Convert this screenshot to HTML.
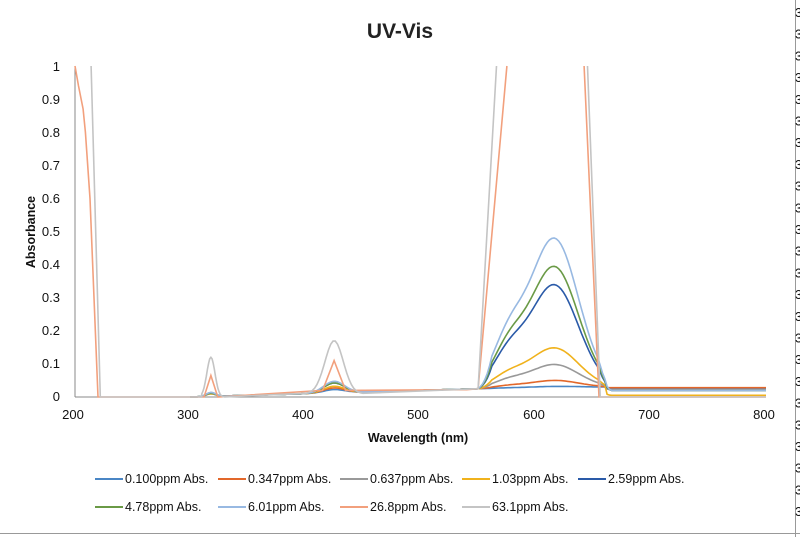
<!DOCTYPE html>
<html><head><meta charset="utf-8"><style>
body{margin:0;background:#fff;width:800px;height:537px;overflow:hidden;font-family:"Liberation Sans",sans-serif}
</style></head><body>
<svg id="s" width="800" height="537" xmlns="http://www.w3.org/2000/svg" font-family="Liberation Sans, sans-serif">
<rect width="800" height="537" fill="#fff"/>
<text x="400" y="38" text-anchor="middle" font-size="21" font-weight="bold" fill="#222">UV-Vis</text>
<g font-size="13" fill="#111" text-anchor="end">
<text x="60" y="71">1</text><text x="60" y="104">0.9</text><text x="60" y="137">0.8</text><text x="60" y="170">0.7</text><text x="60" y="203">0.6</text><text x="60" y="236">0.5</text><text x="60" y="269">0.4</text><text x="60" y="302">0.3</text><text x="60" y="335">0.2</text><text x="60" y="368">0.1</text><text x="60" y="401">0</text>
</g>
<g font-size="13" fill="#111" text-anchor="middle">
<text x="73" y="419">200</text><text x="188" y="419">300</text><text x="303" y="419">400</text><text x="418" y="419">500</text><text x="534" y="419">600</text><text x="649" y="419">700</text><text x="764" y="419">800</text>
</g>
<text x="418" y="442" text-anchor="middle" font-size="12.5" font-weight="bold" fill="#111">Wavelength (nm)</text>
<text transform="translate(35,232) rotate(-90)" text-anchor="middle" font-size="12.5" font-weight="bold" fill="#111">Absorbance</text>
<line x1="75" y1="66" x2="75" y2="397" stroke="#888" stroke-width="1"/>
<line x1="75" y1="397" x2="766" y2="397" stroke="#888" stroke-width="1"/>
<g id="series"></g>
<line x1="795.5" y1="0" x2="795.5" y2="537" stroke="#999"/>
<g id="threes" font-size="13" fill="#111"></g>
<line x1="0" y1="533.5" x2="800" y2="533.5" stroke="#999"/>
<g font-size="12.5" fill="#111" id="leg"></g>
</svg>
<script>
var X=function(n){return 75+(n-200)*1.1517},Y=function(a){return 397-a*331};
var S=[
["#4a86c5",0.004,0.008,0.01,0.025],
["#e2672a",0.022,0.01,0.015,0.028],
["#999999",0.07,0.012,0.03,0.022],
["#f0b21c",0.12,0.008,0.02,0.005],
["#2a5aa8",0.31,0.01,0.03,0.02],
["#6a9a46",0.365,0.01,0.03,0.02],
["#98b9e2",0.45,0.012,0.035,0.02]];
function g(x,c,s){return Math.exp(-(x-c)*(x-c)/(2*s*s))}
var out="";
function poly(pts,col){out+='<polyline fill="none" stroke="'+col+'" stroke-width="1.6" points="'+pts.join(" ")+'"/>';}
S.forEach(function(s){var p=[];for(var n=300;n<=800;n+=2){var a;
 var base=n<550?0.025*(n-300)/250:(n<=660?0.025+(n-550)/110*0.005:s[4]);
 a=base+s[2]*g(n,318,4)+s[3]*g(n,425,9);
 if(n>550&&n<665){var sh=(g(n,616,21)+0.3*g(n,576,14));var w=Math.min(1,(n-550)/12)*Math.min(1,Math.max(0,(665-n)/10));a+=s[1]*sh*w;}
 p.push(X(n).toFixed(1)+","+Y(Math.min(a,1)).toFixed(1));}poly(p,s[0]);});
function pl(arr,col){var cur=[];arr.forEach(function(q){if(q===null){if(cur.length)poly(cur,col);cur=[];}else cur.push(X(q[0]).toFixed(1)+","+Y(q[1]).toFixed(1));});if(cur.length)poly(cur,col);}
pl([[200,1],[203,0.94],[207,0.87],[209,0.8],[213,0.6],[220,0],[300,0],[312,0],[318,0.065],[324,0],[415,0.02],[425,0.11],[435,0.02],[540,0.022],[550,0.025],[575,1],null,[642,1],[655,0],[800,0]],"#f2a07d");
var q=[];q.push([214,1],[222,0],[310,0]);for(var n=310;n<=330;n+=1)q.push([n,0.12*g(n,318,3.5)]);for(var n=400;n<=450;n+=2)q.push([n,0.01+0.16*g(n,425,8)]);q.push([550,0.025],[566,1],null,[645,1],[656,0],[800,0]);
pl(q,"#c4c4c4");
document.getElementById("series").innerHTML=out;
var t="";for(var y=17;y<537;y+=21.7)t+='<text x="795" y="'+y.toFixed(1)+'">3</text>';document.getElementById("threes").innerHTML=t;
var L=[[95,483,"#4a86c5","0.100ppm Abs."],[218,483,"#e2672a","0.347ppm Abs."],[340,483,"#999999","0.637ppm Abs."],[462,483,"#f0b21c","1.03ppm Abs."],[578,483,"#2a5aa8","2.59ppm Abs."],
[95,511,"#6a9a46","4.78ppm Abs."],[218,511,"#98b9e2","6.01ppm Abs."],[340,511,"#f2a07d","26.8ppm Abs."],[462,511,"#c4c4c4","63.1ppm Abs."]];
var l="";L.forEach(function(e){l+='<line x1="'+e[0]+'" y1="'+(e[1]-4)+'" x2="'+(e[0]+28)+'" y2="'+(e[1]-4)+'" stroke="'+e[2]+'" stroke-width="2"/><text x="'+(e[0]+30)+'" y="'+e[1]+'">'+e[3]+'</text>';});
document.getElementById("leg").innerHTML=l;
</script>
</body></html>
